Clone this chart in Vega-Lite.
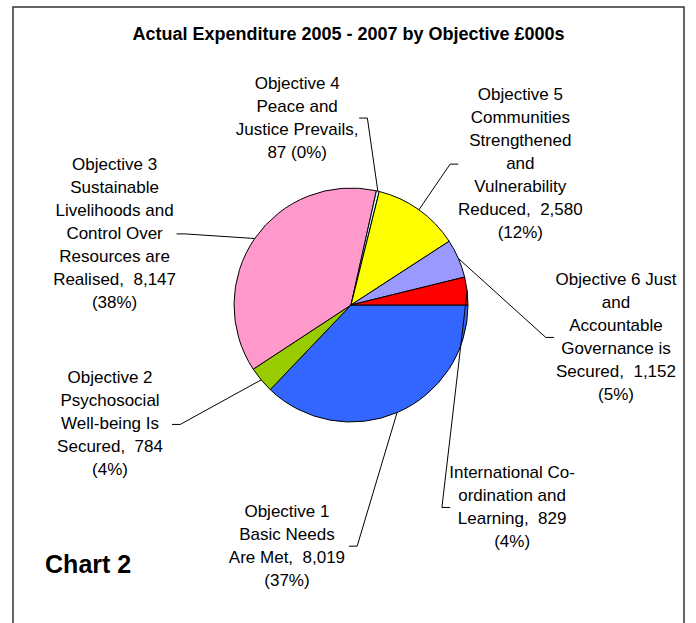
{
  "$schema": "https://vega.github.io/schema/vega-lite/v6.json",
  "width": 671,
  "height": 617,
  "autosize": {"type": "none"},
  "padding": {"left": 13, "right": 12, "top": 7, "bottom": 0},
  "background": "white",
  "config": {"font": "Liberation Sans", "view": {"stroke": "#333333", "strokeWidth": 1.5}},
  "title": {
    "text": "Actual Expenditure 2005 - 2007 by Objective £000s",
    "font": "Liberation Sans",
    "fontSize": 18,
    "fontWeight": "bold",
    "color": "black",
    "anchor": "middle",
    "frame": "group",
    "orient": "top",
    "offset": -51,
    "baseline": "alphabetic"
  },
  "data": {
    "values": [
      {"name": "Objective 1", "order": 1, "value": 8019, "label": "Objective 1\nBasic Needs\nAre Met,\u00a0 8,019\n(37%)"},
      {"name": "Objective 2", "order": 2, "value": 784, "label": "Objective 2\nPsychosocial\nWell-being Is\nSecured,\u00a0 784\n(4%)"},
      {"name": "Objective 3", "order": 3, "value": 8147, "label": "Objective 3\nSustainable\nLivelihoods and\nControl Over\nResources are\nRealised,\u00a0 8,147\n(38%)"},
      {"name": "Objective 4", "order": 4, "value": 87, "label": "Objective 4\nPeace and\nJustice Prevails,\n87 (0%)"},
      {"name": "Objective 5", "order": 5, "value": 2580, "label": "Objective 5\nCommunities\nStrengthened\nand\nVulnerability\nReduced,\u00a0 2,580\n(12%)"},
      {"name": "Objective 6", "order": 6, "value": 1152, "label": "Objective 6 Just\nand\nAccountable\nGovernance is\nSecured,\u00a0 1,152\n(5%)"},
      {"name": "International", "order": 7, "value": 829, "label": "International Co-\nordination and\nLearning,\u00a0 829\n(4%)"}
    ]
  },
  "transform": [
    {"stack": "value", "groupby": [], "sort": [{"field": "order", "order": "ascending"}], "as": ["v0", "v1"]},
    {"joinaggregate": [{"op": "sum", "field": "value", "as": "total"}, {"op": "count", "as": "n"}]},
    {"window": [{"op": "row_number", "as": "idx"}], "sort": [{"field": "order", "order": "ascending"}]},
    {"calculate": "PI * (datum.v0 + datum.v1) / datum.total", "as": "mid"},
    {"calculate": "cos(datum.mid)", "as": "ex"},
    {"calculate": "sin(datum.mid)", "as": "ey"},
    {"calculate": "1.815 + 2 * PI * (datum.idx - 1) / datum.n", "as": "la"},
    {"calculate": "2.265 * cos(datum.la)", "as": "lx"},
    {"calculate": "0.24 + 1.877 * sin(datum.la)", "as": "ly"},
    {"calculate": "length(split(datum.label, '\\n'))", "as": "nl"},
    {"calculate": "datum.ly - (datum.nl - 1) * 23 / (2 * 117)", "as": "ty"},
    {"calculate": "datum.lx < datum.ex ? 1 : -1", "as": "side"},
    {"calculate": "datum.lx + datum.side * 0.53", "as": "ax"},
    {"calculate": "datum.ax + datum.side * 0.07", "as": "elx"}
  ],
  "layer": [
    {
      "mark": {"type": "arc", "outerRadius": 117, "stroke": "black", "strokeWidth": 1},
      "encoding": {
        "theta": {"field": "value", "type": "quantitative", "stack": true, "scale": {"range": [1.5708, 7.854]}},
        "order": {"field": "order", "type": "quantitative"},
        "color": {
          "field": "name",
          "type": "nominal",
          "scale": {
            "domain": ["Objective 1", "Objective 2", "Objective 3", "Objective 4", "Objective 5", "Objective 6", "International"],
            "range": ["#3366FF", "#99CC00", "#FF99CC", "#CCFFFF", "#FFFF00", "#9999FF", "#FF0000"]
          },
          "legend": null
        },
        "x": {"datum": 0, "type": "quantitative", "scale": {"domain": [-2.889, 2.846], "nice": false, "zero": false}, "axis": null},
        "y": {"datum": 0, "type": "quantitative", "scale": {"domain": [-2.547, 2.7265], "nice": false, "zero": false, "reverse": true}, "axis": null}
      }
    },
    {
      "mark": {"type": "rule", "color": "black", "strokeWidth": 1},
      "encoding": {
        "x": {"field": "ex", "type": "quantitative", "scale": {"domain": [-2.889, 2.846], "nice": false, "zero": false}, "axis": null},
        "y": {"field": "ey", "type": "quantitative", "scale": {"domain": [-2.547, 2.7265], "nice": false, "zero": false, "reverse": true}, "axis": null},
        "x2": {"field": "elx"},
        "y2": {"field": "ly"}
      }
    },
    {
      "mark": {"type": "rule", "color": "black", "strokeWidth": 1},
      "encoding": {
        "x": {"field": "elx", "type": "quantitative", "scale": {"domain": [-2.889, 2.846], "nice": false, "zero": false}, "axis": null},
        "y": {"field": "ly", "type": "quantitative", "scale": {"domain": [-2.547, 2.7265], "nice": false, "zero": false, "reverse": true}, "axis": null},
        "x2": {"field": "ax"}
      }
    },
    {
      "mark": {"type": "text", "font": "Liberation Sans", "fontSize": 17, "lineHeight": 23, "lineBreak": "\n", "align": "center", "baseline": "middle", "color": "black"},
      "encoding": {
        "x": {"field": "lx", "type": "quantitative", "scale": {"domain": [-2.889, 2.846], "nice": false, "zero": false}, "axis": null},
        "y": {"field": "ty", "type": "quantitative", "scale": {"domain": [-2.547, 2.7265], "nice": false, "zero": false, "reverse": true}, "axis": null},
        "text": {"field": "label", "type": "nominal"}
      }
    },
    {
      "data": {"values": [{"caption": "Chart 2"}]},
      "mark": {"type": "text", "font": "Liberation Sans", "fontSize": 25, "fontWeight": "bold", "align": "left", "baseline": "alphabetic", "color": "black"},
      "encoding": {
        "x": {"datum": -2.615, "type": "quantitative", "scale": {"domain": [-2.889, 2.846], "nice": false, "zero": false}, "axis": null},
        "y": {"datum": 2.29, "type": "quantitative", "scale": {"domain": [-2.547, 2.7265], "nice": false, "zero": false, "reverse": true}, "axis": null},
        "text": {"field": "caption", "type": "nominal"}
      }
    }
  ]
}
